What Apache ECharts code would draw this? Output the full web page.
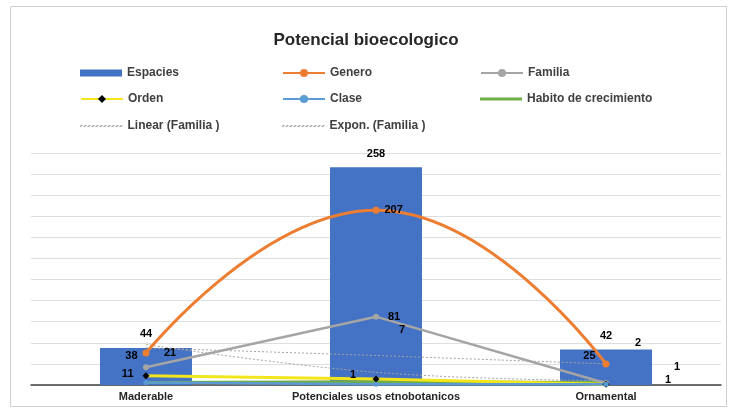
<!DOCTYPE html>
<html>
<head>
<meta charset="utf-8">
<script src="https://cdn.jsdelivr.net/npm/echarts@6/dist/echarts.min.js"></script>
<style>
  html, body { margin: 0; padding: 0; background: #ffffff; }
  #chart { width: 732px; height: 412px; }
</style>
</head>
<body>
<div id="chart"></div>
<script>
// Categories and series values
const categories = ['Maderable', 'Potenciales usos etnobotanicos', 'Ornamental'];
const espacies = [44, 258, 42];
const genero = [38, 207, 25];
const familia = [21, 81, 2];
const orden = [11, 7, 1];
const clase = [3, 1, 1];
const habito = [3, 4, 3];
// Trendlines of Familia, as drawn
const linearFamilia = [44, 35, 25];
const exponFamilia = [48, 15, 5];

// Per-point label placement [position, [dx, dy]] (null = no label)
const generoLabelPos = [['left', [0, 3]], ['right', [0, 0]], ['left', [-2, -8]]];
const familiaLabelPos = [['inside', [24, -14]], ['right', [4, 0]], ['inside', [32, -40]]];
const ordenLabelPos = [['left', [-4, -2]], ['inside', [26, -49]], ['inside', [62, -4]]];
const claseLabelPos = [null, ['inside', [-23, -9]], ['inside', [71, -17]]];
const habitoLabelPos = [['right', [6, -6]], ['inside', [64, -37]], null];

const FONT = 'Liberation Sans, Arial, sans-serif';
const labelFont = { color: '#000000', fontSize: 11, fontWeight: 'bold', fontFamily: FONT };

function withLabels(values, positions) {
  return values.map((v, i) => {
    const p = positions[i];
    if (!p) return { value: v, label: { show: false } };
    return { value: v, label: Object.assign({ show: true, position: p[0], offset: p[1] }, labelFont) };
  });
}

const legendText = { color: '#404040', fontSize: 12, fontWeight: 'bold', fontFamily: FONT };
function legendAt(item, left, top, extra) {
  return Object.assign({
    data: [item], left: left, top: top, itemWidth: 42, itemHeight: 10,
    itemGap: 6, textStyle: legendText, selectedMode: false, padding: 0
  }, extra || {});
}
const dottedLegend = {
  itemHeight: 1,
  itemStyle: { color: 'transparent', borderColor: '#A5A5A5', borderWidth: 1, borderType: [2, 2] }
};

const chart = echarts.init(document.getElementById('chart'));
chart.setOption({
  animation: false,
  backgroundColor: '#ffffff',
  title: {
    text: 'Potencial bioecologico', left: 'center', top: 27,
    textStyle: { fontSize: 17, fontWeight: 'bold', color: '#262626', fontFamily: FONT }
  },
  legend: [
    legendAt({ name: 'Espacies', icon: 'rect' }, 80, 67, { itemHeight: 7 }),
    legendAt('Genero', 282, 67),
    legendAt('Familia', 480, 67),
    legendAt('Orden', 80, 93),
    legendAt('Clase', 282, 93),
    legendAt({ name: 'Habito de crecimiento', icon: 'rect' }, 480, 93, { itemHeight: 3 }),
    legendAt({ name: 'Linear (Familia )', icon: 'rect' }, 80, 120, dottedLegend),
    legendAt({ name: 'Expon. (Familia )', icon: 'rect' }, 282, 120, dottedLegend)
  ],
  grid: { left: 31, right: 11, top: 153, bottom: 27, containLabel: false },
  xAxis: {
    type: 'category', data: categories,
    axisLine: { lineStyle: { color: '#404040', width: 1.5 } },
    axisTick: { show: false },
    axisLabel: { color: '#262626', fontSize: 11, fontWeight: 'bold', margin: 6, fontFamily: FONT }
  },
  yAxis: {
    type: 'value', min: 0, max: 275, interval: 25,
    axisLabel: { show: false }, axisLine: { show: false }, axisTick: { show: false },
    splitLine: { lineStyle: { color: '#dedede', width: 1 } }
  },
  graphic: [{
    type: 'rect', shape: { x: 10.5, y: 6.5, width: 716, height: 400 },
    style: { fill: 'none', stroke: '#d0d0d0', lineWidth: 1 }, silent: true, z: -1
  }],
  series: [
    {
      name: 'Espacies', type: 'bar', data: espacies, barWidth: '40%',
      itemStyle: { color: '#4472C4' },
      label: Object.assign({ show: true, position: 'top', distance: 8 }, labelFont),
      z: 1
    },
    {
      name: 'Genero', type: 'line', data: withLabels(genero, generoLabelPos), smooth: 0.5,
      lineStyle: { color: '#ED7D31', width: 3 }, itemStyle: { color: '#ED7D31' },
      symbol: 'circle', symbolSize: 7, z: 5
    },
    {
      name: 'Familia', type: 'line', data: withLabels(familia, familiaLabelPos),
      lineStyle: { color: '#A5A5A5', width: 2.5 }, itemStyle: { color: '#A5A5A5' },
      symbol: 'circle', symbolSize: 6, z: 4
    },
    {
      name: 'Orden', type: 'line', data: withLabels(orden, ordenLabelPos),
      lineStyle: { color: '#F2E51C', width: 3 }, itemStyle: { color: '#000000' },
      symbol: 'diamond', symbolSize: 7, z: 4
    },
    {
      name: 'Clase', type: 'line', data: withLabels(clase, claseLabelPos),
      lineStyle: { color: '#5B9BD5', width: 2.5 }, itemStyle: { color: '#5B9BD5' },
      symbol: 'circle', symbolSize: 5, z: 4
    },
    {
      name: 'Habito de crecimiento', type: 'line', data: withLabels(habito, habitoLabelPos),
      lineStyle: { color: '#70AD47', width: 3 }, itemStyle: { color: '#70AD47' },
      symbol: 'none', z: 3
    },
    {
      name: 'Linear (Familia )', type: 'line', data: linearFamilia,
      lineStyle: { color: '#A5A5A5', width: 1, type: [2, 2] }, itemStyle: { color: '#A5A5A5' },
      symbol: 'none', z: 3
    },
    {
      name: 'Expon. (Familia )', type: 'line', data: exponFamilia, smooth: 0.4,
      lineStyle: { color: '#A5A5A5', width: 1, type: [2, 2] }, itemStyle: { color: '#A5A5A5' },
      symbol: 'none', z: 3
    }
  ]
});
</script>
</body>
</html>
